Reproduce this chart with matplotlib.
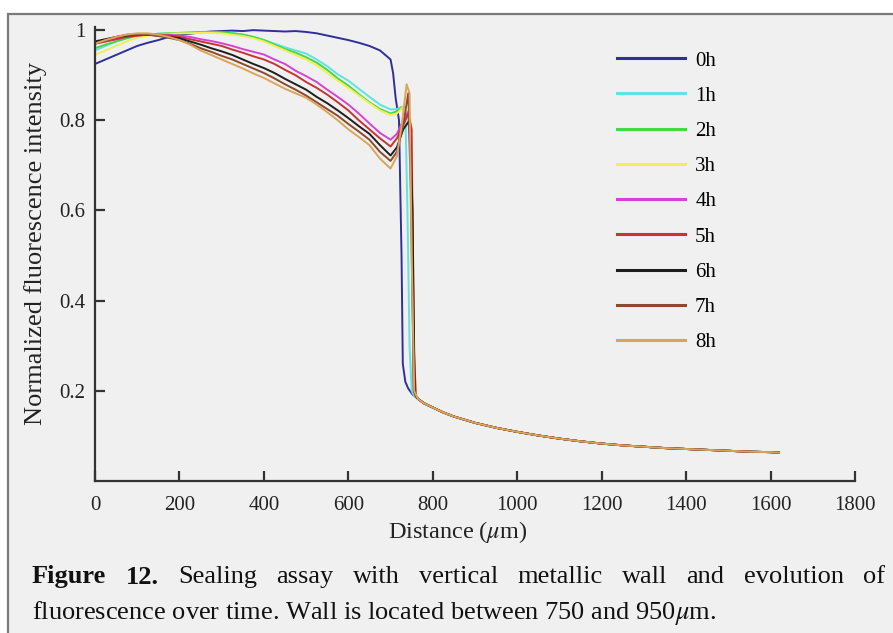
import matplotlib
matplotlib.use("Agg")
import matplotlib.pyplot as plt
import numpy as np
from matplotlib.patches import Rectangle

# ---- data ----
labels = ['0h', '1h', '2h', '3h', '4h', '5h', '6h', '7h', '8h']
colors = ['#2f2f9c', '#5fe3e3', '#45d845', '#f2ee55', '#d444d4',
          '#c83434', '#1e1e1e', '#8a4b2c', '#dca35a']

# distance grid before the wall (um)
dist_front = np.arange(0, 701, 25)

front = {
    '0h': [0.925, 0.935, 0.945, 0.955, 0.965, 0.972, 0.978, 0.985, 0.990, 0.992,
           0.995, 0.997, 0.998, 0.999, 0.998, 1.000, 0.999, 0.998, 0.997, 0.998,
           0.996, 0.993, 0.988, 0.983, 0.978, 0.972, 0.965, 0.955, 0.935],
    '1h': [0.955, 0.965, 0.975, 0.982, 0.988, 0.990, 0.992, 0.993, 0.993, 0.994,
           0.995, 0.996, 0.995, 0.994, 0.990, 0.985, 0.978, 0.970, 0.962, 0.955,
           0.948, 0.935, 0.920, 0.902, 0.888, 0.870, 0.852, 0.835, 0.824],
    '2h': [0.960, 0.968, 0.975, 0.982, 0.988, 0.990, 0.992, 0.993, 0.994, 0.995,
           0.996, 0.996, 0.995, 0.993, 0.990, 0.985, 0.978, 0.968, 0.958, 0.950,
           0.940, 0.928, 0.912, 0.893, 0.877, 0.858, 0.840, 0.825, 0.815],
    '3h': [0.945, 0.955, 0.965, 0.975, 0.983, 0.988, 0.990, 0.992, 0.993, 0.993,
           0.994, 0.994, 0.993, 0.990, 0.987, 0.982, 0.975, 0.965, 0.955, 0.945,
           0.935, 0.922, 0.905, 0.888, 0.872, 0.855, 0.838, 0.822, 0.812],
    '4h': [0.970, 0.975, 0.980, 0.985, 0.988, 0.990, 0.990, 0.990, 0.988, 0.985,
           0.980, 0.976, 0.971, 0.965, 0.958, 0.952, 0.946, 0.935, 0.925, 0.910,
           0.898, 0.885, 0.868, 0.852, 0.835, 0.815, 0.793, 0.772, 0.757],
    '5h': [0.970, 0.975, 0.980, 0.985, 0.988, 0.990, 0.990, 0.988, 0.985, 0.980,
           0.975, 0.970, 0.965, 0.957, 0.950, 0.942, 0.935, 0.925, 0.912, 0.900,
           0.885, 0.872, 0.857, 0.840, 0.822, 0.800, 0.780, 0.760, 0.742],
    '6h': [0.975, 0.980, 0.985, 0.988, 0.990, 0.990, 0.988, 0.985, 0.982, 0.975,
           0.968, 0.960, 0.953, 0.945, 0.935, 0.925, 0.916, 0.905, 0.892, 0.880,
           0.868, 0.852, 0.838, 0.822, 0.805, 0.787, 0.770, 0.745, 0.722],
    '7h': [0.970, 0.978, 0.985, 0.990, 0.990, 0.990, 0.987, 0.983, 0.978, 0.970,
           0.960, 0.952, 0.943, 0.935, 0.925, 0.915, 0.905, 0.893, 0.880, 0.868,
           0.855, 0.840, 0.825, 0.810, 0.792, 0.775, 0.757, 0.730, 0.710],
    '8h': [0.970, 0.978, 0.985, 0.990, 0.993, 0.993, 0.990, 0.985, 0.978, 0.968,
           0.955, 0.945, 0.935, 0.925, 0.915, 0.904, 0.894, 0.882, 0.870, 0.860,
           0.850, 0.835, 0.818, 0.800, 0.780, 0.763, 0.745, 0.715, 0.693],
}

# the jump at the wall, per series (distance, value)
wall_x = {
    '0h': [706, 712, 720, 726, 729, 735, 742, 752],
    '1h': [715, 725, 735, 740, 745, 750, 755],
    '2h': [715, 730, 745, 750, 755, 760],
    '3h': [715, 730, 748, 752, 757, 760],
    '4h': [715, 730, 742, 750, 755, 760],
    '5h': [715, 730, 742, 750, 755, 760],
    '6h': [715, 730, 745, 752, 757, 760],
    '7h': [715, 730, 742, 748, 755, 760],
    '8h': [715, 728, 738, 745, 750, 756],
}
wall_y = {
    '0h': [0.905, 0.850, 0.800, 0.500, 0.260, 0.220, 0.205, 0.192],
    '1h': [0.825, 0.830, 0.820, 0.600, 0.300, 0.200, 0.190],
    '2h': [0.820, 0.830, 0.800, 0.500, 0.200, 0.188],
    '3h': [0.815, 0.830, 0.800, 0.450, 0.200, 0.188],
    '4h': [0.770, 0.800, 0.820, 0.600, 0.200, 0.188],
    '5h': [0.760, 0.790, 0.815, 0.780, 0.300, 0.190],
    '6h': [0.740, 0.780, 0.800, 0.600, 0.200, 0.188],
    '7h': [0.730, 0.790, 0.860, 0.700, 0.200, 0.188],
    '8h': [0.720, 0.800, 0.880, 0.860, 0.500, 0.200],
}

# shared decay behind the wall
dist_tail = [765, 780, 800, 825, 850, 875, 900, 950, 1000, 1050, 1100, 1150,
             1200, 1250, 1300, 1350, 1400, 1450, 1500, 1550, 1600, 1620]
tail = [0.182, 0.172, 0.163, 0.152, 0.143, 0.136, 0.129, 0.118, 0.109, 0.101,
        0.094, 0.088, 0.083, 0.079, 0.076, 0.073, 0.071, 0.069, 0.067, 0.065,
        0.064, 0.063]

xticks = [0, 200, 400, 600, 800, 1000, 1200, 1400, 1600, 1800]
yticks = [0.2, 0.4, 0.6, 0.8, 1.0]
ytick_labels = ['0.2', '0.4', '0.6', '0.8', '1']

# ---- figure ----
W, H = 893, 633
fig = plt.figure(figsize=(W / 100, H / 100), dpi=100, facecolor='white')
plt.rcParams['font.family'] = ['Liberation Serif', 'DejaVu Serif']
plt.rcParams['mathtext.fontset'] = 'stix'

# grey panel with border
fig.patches.append(Rectangle((8 / W, -0.01), 1.0, (H - 14) / H + 0.01,
                             transform=fig.transFigure, facecolor='#f0f0f0',
                             edgecolor='#7a7a7a', linewidth=1.6, zorder=-5))

ax = fig.add_axes([95 / W, (H - 481) / H, 760 / W, (481 - 27) / H])
ax.set_facecolor('none')

for lab, col in zip(labels, colors):
    xs = np.concatenate([dist_front, wall_x[lab], dist_tail])
    ys = np.concatenate([front[lab], wall_y[lab], tail])
    ax.plot(xs, ys, color=col, linewidth=1.4, label=lab)

ax.set_xlim(0, 1800)
ax.set_ylim(0, 1.007)
ax.set_xticks(xticks)
ax.set_xticklabels([str(t) for t in xticks])
ax.set_yticks(yticks)
ax.set_yticklabels(ytick_labels)
for s in ['top', 'right']:
    ax.spines[s].set_visible(False)
for s in ['left', 'bottom']:
    ax.spines[s].set_color('#333333')
    ax.spines[s].set_linewidth(1.6)
ax.tick_params(axis='both', direction='in', length=7, width=1.6,
               color='#333333', labelsize=15, labelcolor='#222222')
ax.tick_params(axis='x', pad=11)
ax.tick_params(axis='y', pad=7)

fig.text(458 / W, 1 - 532 / H, 'Distance ($\\mu$m)', ha='center', va='center',
         fontsize=17.5, color='#222222')
fig.text(36 / W, 1 - 243 / H, 'Normalized fluorescence intensity', rotation=90,
         ha='center', va='center', fontsize=19, color='#222222')

leg = ax.legend(loc='upper left', bbox_to_anchor=(617 / W, 1 - 51 / H),
                bbox_transform=fig.transFigure, frameon=False, fontsize=15,
                handlelength=3.25, handletextpad=0.5, labelspacing=0.75,
                borderpad=0, borderaxespad=0)
for line in leg.get_lines():
    line.set_linewidth(2.2)

# caption, first line justified
renderer = fig.canvas.get_renderer()
words1 = ['Figure', '12.', 'Sealing', 'assay', 'with', 'vertical', 'metallic',
          'wall', 'and', 'evolution', 'of']
x_left, x_right = 32, 885
y1 = 1 - 577 / H
texts = []
for i, w in enumerate(words1):
    t = fig.text(0, y1, w, fontsize=19, va='center', ha='left', color='#111111',
                 fontweight='bold' if i < 2 else 'normal')
    texts.append(t)
widths = [t.get_window_extent(renderer).width for t in texts]
gap = (x_right - x_left - sum(widths)) / (len(words1) - 1)
x = x_left
for t, wd in zip(texts, widths):
    t.set_x(x / W)
    x += wd + gap
fig.text(x_left / W, 1 - 613 / H,
         'fluorescence over time. Wall is located between 750 and 950$\\mu$m.',
         fontsize=19, va='center', ha='left', color='#111111')

fig.savefig('out.png', dpi=100, facecolor='white')
